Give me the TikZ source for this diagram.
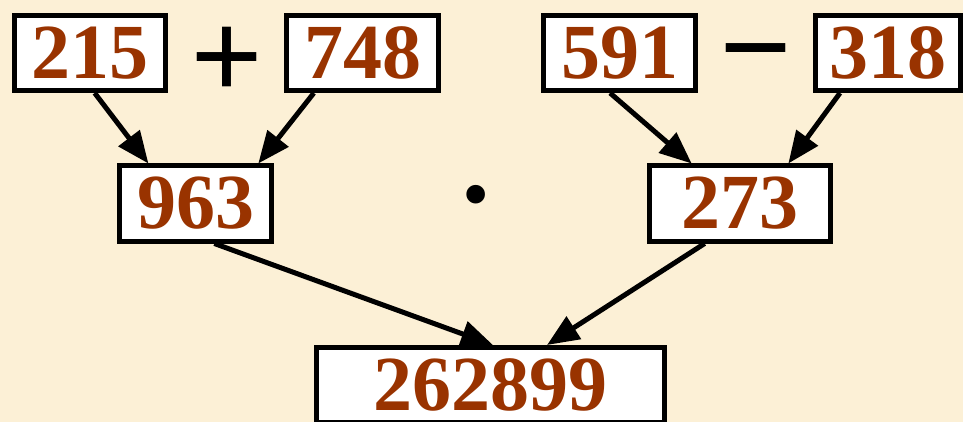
\documentclass[tikz,border=0pt]{standalone}
\usepackage{fontspec}
\setmainfont{Liberation Serif}
\usetikzlibrary{arrows.meta,calc}
\definecolor{numbrown}{HTML}{993300}
\definecolor{paper}{HTML}{FCF0D6}

\begin{document}
\begin{tikzpicture}[x=1pt, y=-1pt, >={Triangle[length=32pt,width=26pt]}]

\tikzset{
    numbox/.style={draw, line width=5pt, fill=white, text=numbrown, inner sep=0pt,
        minimum height=75pt, font=\fontsize{78}{78}\selectfont\bfseries},
    opsign/.style={inner sep=0pt, font=\fontsize{128}{128}\selectfont\bfseries},
    link/.style={->, line width=5pt}
}

% Hintergrund
\fill[paper] (0,0) rectangle (963,422);
\useasboundingbox (0,0) rectangle (963,422);

% Summanden und Differenz
\node[numbox, minimum width=151pt] (a) at (90,53) {215};
\node[numbox, minimum width=152pt] (b) at (362.5,53) {748};
\node[numbox, minimum width=152pt] (c) at (619.5,53) {591};
\node[numbox, minimum width=145pt] (d) at (888,53) {318};
\node[opsign] (plus) at (226.5,63) {+};
\node[opsign] (minus) at (755.5,67) {−};

% Zwischenergebnisse
\node[numbox, minimum width=152pt] (s) at (195.5,203.5) {963};
\node[numbox, minimum width=181pt] (t) at (740,203.5) {273};
\node[opsign, font=\fontsize{78}{78}\selectfont] (times) at (476,203) {•};

% Ergebnis
\node[numbox, minimum width=348pt] (p) at (490.5,385) {262899};

% Pfeile
\draw[link] ($(a.south west)!0.53!(a.south east)$) -- ($(s.north west)!0.2!(s.north east)$);
\draw[link] ($(b.south west)!0.19!(b.south east)$) -- ($(s.north west)!0.9!(s.north east)$);
\draw[link] ($(c.south west)!0.44!(c.south east)$) -- ($(t.north west)!0.24!(t.north east)$);
\draw[link] ($(d.south west)!0.18!(d.south east)$) -- ($(t.north west)!0.76!(t.north east)$);
\draw[link] ($(s.south west)!0.62!(s.south east)$) -- ($(p.north west)!0.507!(p.north east)$);
\draw[link] ($(t.south west)!0.31!(t.south east)$) -- ($(p.north west)!0.66!(p.north east)$);

\end{tikzpicture}
\end{document}
